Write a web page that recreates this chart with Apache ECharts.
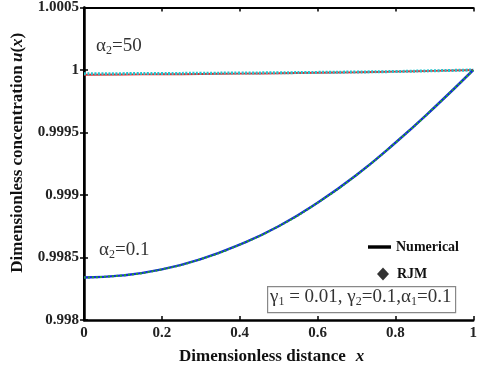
<!DOCTYPE html>
<html lang="en">
<head>
  <meta charset="UTF-8">
  <title>Dimensionless concentration</title>
  <style>
    body { margin: 0; padding: 0; background: #fff; }
    #chart-container { width: 480px; height: 370px; }
  </style>
</head>
<body>
  <div id="chart-container"></div>
  <script src="https://cdn.jsdelivr.net/npm/echarts@6/dist/echarts.min.js"></script>
  <script>
    // values
    var xValues = [0, 0.1, 0.2, 0.3, 0.4, 0.5, 0.6, 0.7, 0.8, 0.9, 1];
    var numLow = [0.99834, 0.998357, 0.998405, 0.998487, 0.998603, 0.99875, 0.998938, 0.99916, 0.999418, 0.9997, 1.0];
    var rjmLow = [0.99834, 0.998357, 0.998405, 0.998487, 0.998603, 0.99875, 0.998938, 0.99916, 0.999418, 0.9997, 1.0];
    var numHigh = [0.999962, 0.999964, 0.999966, 0.999968, 0.999971, 0.999974, 0.999978, 0.999982, 0.999987, 0.999993, 1.0];
    var rjmHigh = [0.99997, 0.999971, 0.999972, 0.999974, 0.999976, 0.999978, 0.999981, 0.999984, 0.999988, 0.999994, 1.0];

    function pairs(ys) {
      return xValues.map(function(x, i) { return [x, ys[i]]; });
    }

    var serif = 'Liberation Serif';
    var chart = echarts.init(document.getElementById('chart-container'));

    var boldLabel = { fontFamily: serif, fontWeight: 'bold', fontSize: 15, color: '#222' };
    var nameRich = {
      b: { fontFamily: serif, fontWeight: 'bold', fontSize: 17, color: '#111' },
      i: { fontFamily: serif, fontStyle: 'italic', fontWeight: 'bold', fontSize: 17, color: '#111' }
    };
    var annRich = {
      a: { fontFamily: serif, fontSize: 19, fill: '#333' },
      s: { fontFamily: serif, fontSize: 12, fill: '#333', padding: [9, 0, 0, 0] }
    };

    var option = {
      animation: false,
      grid: { left: 84, right: 6, top: 6, bottom: 47 },
      xAxis: [{
        type: 'value', min: 0, max: 1, interval: 0.2,
        axisLine: { lineStyle: { color: '#000', width: 2.5 } },
        axisTick: { inside: true, length: 4, lineStyle: { color: '#000', width: 1.5 } },
        splitLine: { show: false },
        axisLabel: Object.assign({ margin: 6, formatter: function(v) { return String(parseFloat(v.toFixed(1))); } }, boldLabel),
        name: '{b|Dimensionless distance}   {i|x}',
        nameLocation: 'middle', nameGap: 28,
        nameTextStyle: { rich: nameRich, padding: [0, 14, 0, 0] }
      }, {
        type: 'value', min: 0, max: 1, interval: 0.2, position: 'top',
        axisLine: { show: true, lineStyle: { color: '#000', width: 2 } },
        axisTick: { inside: true, length: 4, lineStyle: { color: '#000', width: 1.5 } },
        axisLabel: { show: false }, splitLine: { show: false }
      }],
      yAxis: [{
        type: 'value', min: 0.998, max: 1.0005, interval: 0.0005,
        axisLine: { show: true, lineStyle: { color: '#000', width: 2.5 } },
        axisTick: { show: true, inside: true, length: 4, lineStyle: { color: '#000', width: 1.5 } },
        splitLine: { show: false },
        axisLabel: Object.assign({ margin: 5, formatter: function(v) { return String(parseFloat(v.toFixed(4))); } }, boldLabel),
        name: '{b|Dimensionless concentration} {i|u}{b|(}{i|x}{b|)}',
        nameLocation: 'middle', nameGap: 58, nameRotate: 90,
        nameTextStyle: { rich: nameRich, padding: [0, 0, 0, 22] }
      }, {
        type: 'value', min: 0.998, max: 1.0005, interval: 0.0005, position: 'right',
        axisLine: { show: true, lineStyle: { color: '#000', width: 2 } },
        axisTick: { show: true, inside: true, length: 4, lineStyle: { color: '#000', width: 1.5 } },
        axisLabel: { show: false }, splitLine: { show: false }
      }],
      legend: [{
        left: 363, top: 235, itemGap: 11,
        itemWidth: 23, itemHeight: 14,
        data: [{ name: 'Numerical', icon: 'path://M0,5.5 L20,5.5 L20,8.5 L0,8.5 Z' }],
        textStyle: { fontFamily: serif, fontWeight: 'bold', fontSize: 14, color: '#111' }
      }, {
        left: 372, top: 262, itemGap: 11,
        itemWidth: 12, itemHeight: 13,
        data: [{ name: 'RJM', icon: 'diamond' }],
        textStyle: { fontFamily: serif, fontWeight: 'bold', fontSize: 14, color: '#111', padding: [0, 0, 0, 3] }
      }],
      series: [
        { name: 'Numerical', type: 'line', data: [], itemStyle: { color: '#000' }, lineStyle: { color: '#000' } },
        { name: 'RJM', type: 'scatter', data: [], itemStyle: { color: '#000' } },
        {
          name: 'num-high', type: 'line', data: pairs(numHigh), smooth: true, showSymbol: false,
          lineStyle: { color: '#e8262a', width: 2 }
        },
        {
          name: 'rjm-high', type: 'line', data: pairs(rjmHigh), smooth: true, showSymbol: false,
          lineStyle: { color: '#22c6cf', width: 3, type: [2, 1.5] }
        },
        {
          name: 'num-low', type: 'line', data: pairs(numLow), smooth: true, showSymbol: false,
          lineStyle: { color: '#1428e0', width: 2.5 }
        },
        {
          name: 'rjm-low', type: 'line', data: pairs(rjmLow), smooth: true, showSymbol: false,
          lineStyle: { color: '#2aa52a', width: 2, type: [2, 2] }
        }
      ],
      graphic: [
        {
          type: 'text', left: 96, top: 37,
          style: { text: '{a|α}{s|2}{a|=50}', rich: annRich }
        },
        {
          type: 'text', left: 99, top: 241,
          style: { text: '{a|α}{s|2}{a|=0.1}', rich: annRich }
        },
        {
          type: 'rect', left: 267, top: 286,
          shape: { width: 188, height: 26 },
          style: { fill: '#fff', stroke: '#888', lineWidth: 1.2 }
        },
        {
          type: 'text', left: 270, top: 288,
          style: {
            text: '{a|γ}{s|1}{a| = 0.01, γ}{s|2}{a|=0.1,α}{s|1}{a|=0.1}',
            rich: {
              a: { fontFamily: serif, fontSize: 19, fill: '#333' },
              s: { fontFamily: serif, fontSize: 12, fill: '#333', padding: [8, 0, 0, 0] }
            }
          }
        }
      ]
    };

    chart.setOption(option);
  </script>
</body>
</html>
